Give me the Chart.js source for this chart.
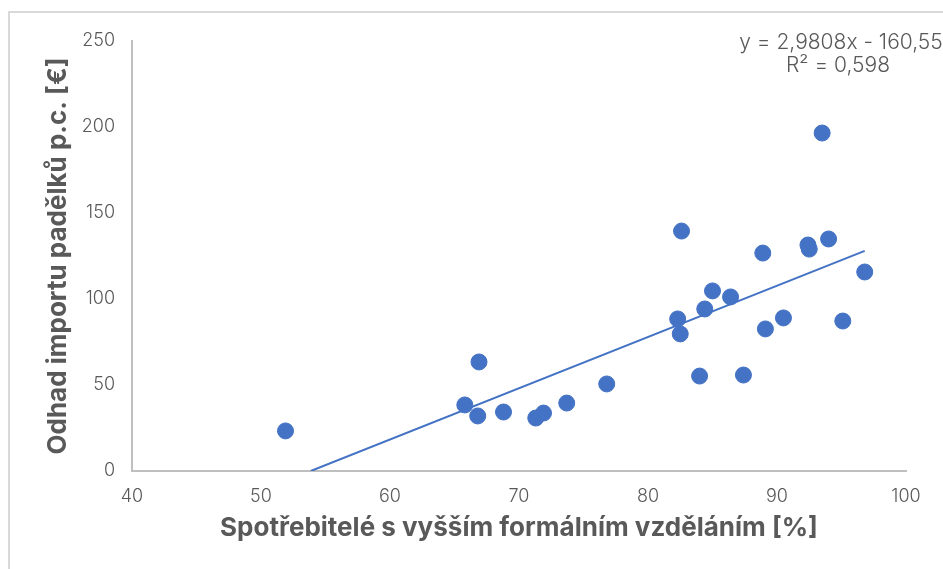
<!DOCTYPE html>
<html>
<head>
<meta charset="utf-8">
<script src="https://cdn.jsdelivr.net/npm/chart.js@4"></script>
<style>
  html, body { margin: 0; padding: 0; background: #fff; overflow: hidden; }
  #wrap { position: relative; width: 943px; height: 569px; }
</style>
</head>
<body>
<div id="wrap"><canvas id="chart" width="943" height="569"></canvas></div>
<script>
// consumers with higher education [%] vs estimated counterfeit import per capita [€]
const eduShare = [51.9, 65.8, 66.9, 66.8, 68.8, 71.3, 71.9, 73.7, 76.8, 82.6, 82.3, 82.5, 84.0,
                  84.4, 85.0, 86.4, 87.4, 88.9, 89.1, 90.5, 92.4, 92.5, 93.5, 94.0, 95.1, 96.8];
const importPc = [23.3, 38.4, 63.4, 32.0, 34.3, 30.8, 33.7, 39.5, 50.6, 139.5, 88.4, 79.7, 55.2,
                  94.2, 104.7, 101.2, 55.8, 126.7, 82.6, 89.0, 131.4, 129.0, 196.5, 134.9, 87.2, 115.7];

// linear trendline endpoints (y = 2,9808x - 160,55)
const trendX = [53.86, 96.8];
const trendY = [0, 128.0];

const xTicks = [40, 50, 60, 70, 80, 90, 100];
const yTicks = [0, 50, 100, 150, 200, 250];

const equationLines = ['y = 2,9808x - 160,55', 'R² = 0,598'];

const blue = '#4472C4';
const textGrey = '#595959';

const framePlugin = {
  id: 'frame',
  beforeDraw(chart) {
    const ctx = chart.ctx;
    ctx.save();
    ctx.strokeStyle = '#D9D9D9';
    ctx.lineWidth = 2;
    ctx.beginPath();
    ctx.moveTo(9, 569);
    ctx.lineTo(9, 12);
    ctx.lineTo(943, 12);
    ctx.stroke();
    ctx.restore();
  },
  afterDraw(chart) {
    const ctx = chart.ctx;
    ctx.save();
    ctx.fillStyle = textGrey;
    ctx.font = '300 21px Inter';
    ctx.textAlign = 'center';
    ctx.textBaseline = 'middle';
    ctx.fillText(equationLines[0], 841, 43);
    ctx.fillText(equationLines[1], 838, 66);
    ctx.restore();
  }
};

new Chart(document.getElementById('chart'), {
  type: 'scatter',
  data: {
    datasets: [
      {
        label: 'data',
        data: eduShare.map((x, i) => ({ x: x, y: importPc[i] })),
        backgroundColor: blue,
        borderColor: blue,
        pointRadius: 8,
        pointHoverRadius: 8,
        order: 1
      },
      {
        label: 'trend',
        type: 'line',
        data: trendX.map((x, i) => ({ x: x, y: trendY[i] })),
        borderColor: blue,
        borderWidth: 2,
        pointRadius: 0,
        fill: false,
        order: 2
      }
    ]
  },
  options: {
    responsive: false,
    animation: false,
    layout: { padding: { left: 0, top: 41, right: 37, bottom: 0 } },
    plugins: {
      legend: { display: false },
      tooltip: { enabled: false }
    },
    scales: {
      x: {
        type: 'linear',
        min: 40,
        max: 100,
        afterBuildTicks: (axis) => { axis.ticks = xTicks.map(v => ({ value: v })); },
        afterFit: (axis) => { axis.height = 98; },
        grid: { display: false, drawTicks: false },
        border: { display: true, color: '#BFBFBF', width: 2 },
        ticks: { color: textGrey, font: { family: 'Inter', size: 18, weight: '300' }, padding: 15 },
        title: {
          display: true,
          text: 'Spotřebitelé s vyšším formálním vzděláním [%]',
          color: textGrey,
          font: { family: 'Inter', size: 26, weight: '700' },
          padding: { top: 0, bottom: 25 }
        }
      },
      y: {
        type: 'linear',
        min: 0,
        max: 250,
        afterBuildTicks: (axis) => { axis.ticks = yTicks.map(v => ({ value: v })); },
        afterFit: (axis) => { axis.width = 132; },
        grid: { display: false, drawTicks: false },
        border: { display: true, color: '#BFBFBF', width: 2 },
        ticks: { color: textGrey, font: { family: 'Inter', size: 18, weight: '300' }, padding: 17 },
        title: {
          display: true,
          text: 'Odhad importu padělků p.c. [€]',
          color: textGrey,
          font: { family: 'Inter', size: 26, weight: '700' },
          padding: { top: 43, bottom: 0 }
        }
      }
    }
  },
  plugins: [framePlugin]
});
</script>
</body>
</html>
